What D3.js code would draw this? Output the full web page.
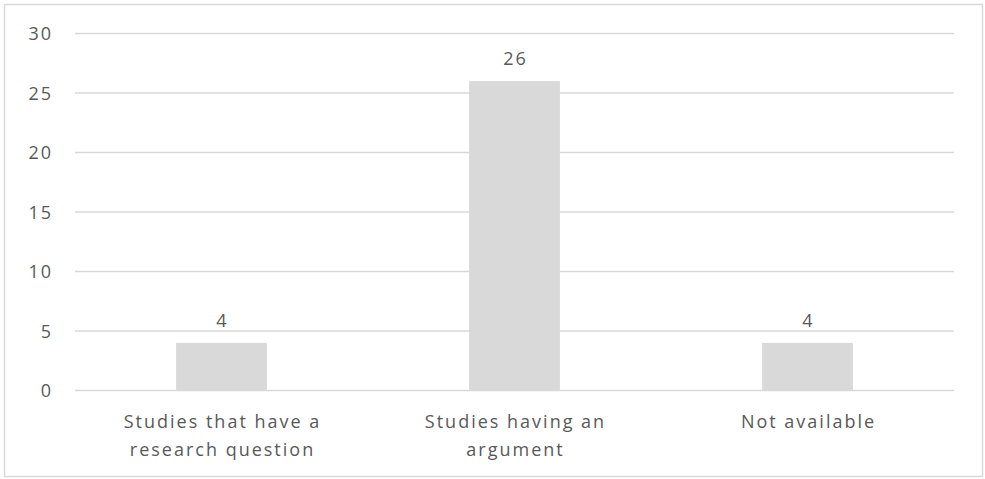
<!DOCTYPE html>
<html>
<head>
<meta charset="utf-8">
<script src="https://cdn.jsdelivr.net/npm/d3@7"></script>
<style>
  body { margin: 0; background: #fff; }
  text { font-family: "Open Sans", "Noto Sans", sans-serif; fill: #595959; letter-spacing: 2px; }
</style>
</head>
<body>
<script>
var categories = [["Studies that have a", "research question"], ["Studies having an", "argument"], ["Not available"]];
var values = [4, 26, 4];
var yTicks = [0, 5, 10, 15, 20, 25, 30];

var width = 985, height = 479;
var plotLeft = 75, plotRight = 954, plotTop = 33.5, plotBottom = 390.5;

var svg = d3.select("body").append("svg")
    .attr("width", width)
    .attr("height", height);

// chart frame
svg.append("rect")
    .attr("x", 4.5).attr("y", 4.5)
    .attr("width", 978).attr("height", 472)
    .attr("fill", "#fff")
    .attr("stroke", "#d9d9d9")
    .attr("stroke-width", 1.5);

var x = d3.scaleBand()
    .domain(d3.range(values.length))
    .range([plotLeft, plotRight]);

var y = d3.scaleLinear()
    .domain([0, 30])
    .range([plotBottom, plotTop]);

// grid lines
svg.append("g").selectAll("line")
    .data(yTicks)
    .enter()
    .append("line")
    .attr("x1", plotLeft).attr("x2", plotRight)
    .attr("y1", d => y(d)).attr("y2", d => y(d))
    .attr("stroke", "#d9d9d9")
    .attr("stroke-width", 1.3);

// y axis labels
var yAxis = d3.axisLeft(y).tickValues(yTicks).tickSize(0).tickPadding(0);
var ga = svg.append("g")
    .attr("transform", "translate(53,0)")
    .call(yAxis);
ga.select(".domain").remove();
ga.attr("font-family", null).attr("font-size", null);
ga.selectAll("text")
    .style("font-size", "18px")
    .attr("fill", "#595959")
    .attr("dy", "0.35em");

var barW = x.step() * 0.31;

svg.append("g").selectAll("rect")
    .data(values)
    .enter()
    .append("rect")
    .attr("x", (d, i) => x(i) + x.bandwidth() / 2 - barW / 2)
    .attr("y", d => y(d))
    .attr("width", barW)
    .attr("height", d => y(0) - y(d))
    .attr("fill", "#d9d9d9");

// value labels
svg.append("g").selectAll("text")
    .data(values)
    .enter()
    .append("text")
    .attr("x", (d, i) => x(i) + x.bandwidth() / 2 + 1)
    .attr("y", d => y(d) - 22)
    .attr("text-anchor", "middle")
    .attr("dy", "0.35em")
    .style("font-size", "18px")
    .text(d => d);

// category labels
var cat = svg.append("g").selectAll("text")
    .data(categories)
    .enter()
    .append("text")
    .attr("x", (d, i) => x(i) + x.bandwidth() / 2 + 1)
    .attr("y", 421.5)
    .attr("text-anchor", "middle")
    .style("font-size", "18px");

cat.selectAll("tspan")
    .data(d => d)
    .enter()
    .append("tspan")
    .attr("x", function () { return d3.select(this.parentNode).attr("x"); })
    .attr("dy", (d, i) => i === 0 ? "0.35em" : "28px")
    .text(d => d);
</script>
</body>
</html>
